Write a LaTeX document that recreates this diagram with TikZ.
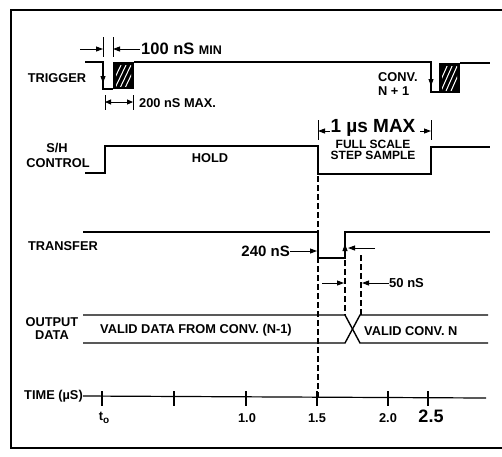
\documentclass[tikz,border=0pt]{standalone}
\usepackage{fontspec}
\setmainfont{Liberation Sans}
\usetikzlibrary{arrows.meta}
\newcommand{\fs}[1]{\fontsize{#1}{#1}\selectfont\bfseries}
\begin{document}
\begin{tikzpicture}[x=1pt,y=-1pt,
  sig/.style={line width=1.4pt, line join=miter},
  dim/.style={line width=0.9pt},
  dl/.style={line width=1.1pt, dash pattern=on 6pt off 3pt},
  arr/.style={-{Triangle[length=7pt,width=5pt]}, line width=0.9pt},
  darr/.style={{Triangle[length=6pt,width=5pt]}-{Triangle[length=6pt,width=5pt]}, line width=0.9pt},
  lbl/.style={font=\fs{12.8}, inner sep=0pt, align=center}
]
\useasboundingbox (0,0) rectangle (502,456);
% frame
\draw[line width=1.6pt] (502,10) -- (11,10) -- (11,448) -- (502,448);

% ---------- TRIGGER ----------
\node[lbl] (trig) at (57,78) {TRIGGER};
\draw[sig] (85,62) -- (103,62) -- (103,89) -- (113,89);
\fill (113,62) rectangle (134,89);
\begin{scope}
  \clip (116,65) rectangle (131,86);
  \foreach \i in {0,5,10,15} \draw[white, line width=1pt] (110+\i,88) -- (122+\i,63);
\end{scope}
\draw[sig] (134,62) -- (431,62) -- (431,92) -- (439,92);
\fill (439,63) rectangle (460,93);
\begin{scope}
  \clip (442,66) rectangle (457,90);
  \foreach \i in {0,5,10,15} \draw[white, line width=1pt] (436+\i,91) -- (448+\i,64);
\end{scope}
\draw[sig] (460,63) -- (490,63);
\draw[arr] (103,62) -- (103,83);
\draw[arr] (431,62) -- (431,86);
\node[lbl, anchor=west] (conv1) at (378,77) {CONV.};
\node[lbl, anchor=west] (conv2) at (378,91) {N + 1};

% 100 nS MIN
\draw[dim] (103,37) -- (103,57);
\draw[dim] (113,37) -- (113,57);
\coordinate (a1) at (80,49); \coordinate (a2) at (103,49);
\coordinate (a3) at (140,49); \coordinate (a4) at (113,49);
\draw[arr] (a1) -- (a2);
\draw[arr] (a3) -- (a4);
\node[inner sep=0pt, anchor=west] (t100) at (141,49) {\fs{16.5}100 nS \fs{12.5}MIN};

% 200 nS MAX
\draw[dim] (105,95) -- (105,110);
\draw[dim] (133,95) -- (133,110);
\coordinate (b1) at (105,102); \coordinate (b2) at (133,102);
\draw[darr] (b1) -- (b2);
\node[lbl, anchor=west] (t200) at (139,103) {200 nS MAX.};

% ---------- S/H CONTROL ----------
\node[lbl] (sh) at (57,148) {S/H};
\node[lbl] (ctl) at (58,163) {CONTROL};
\draw[sig] (85,173) -- (105,173) -- (105,146) -- (318,146) -- (318,174) -- (431,174) -- (431,147) -- (490,147);
\node[lbl] (hold) at (210,158) {HOLD};
\draw[dim] (318,120) -- (318,140);
\draw[dim] (431,120) -- (431,140);
\coordinate (c1) at (330,131); \coordinate (c2) at (318,131);
\coordinate (c3) at (420,131); \coordinate (c4) at (431,131);
\draw[arr] (c1) -- (c2);
\draw[arr] (c3) -- (c4);
\node[inner sep=0pt] (onemu) at (373,128) {\fs{19}1 µs MAX};
\node[lbl, font=\fs{12}] (fs1) at (373,144) {FULL SCALE};
\node[lbl, font=\fs{12}] (fs2) at (373,155) {STEP SAMPLE};

% ---------- TRANSFER ----------
\node[lbl] (trans) at (63,246) {TRANSFER};
\draw[sig] (83,232) -- (318,232) -- (318,258) -- (345,258) -- (345,232) -- (490,232);
\node[inner sep=0pt, anchor=east] (t240) at (290,251) {\fs{15}240 nS};
\draw[arr] (t240.east) -- (317,251);
\draw[arr] (345,258) -- (345,244);
\coordinate (d1) at (375,248); \coordinate (d2) at (348,248);
\draw[arr] (d1) -- (d2);

% dashed guides
\draw[dl] (318,176) -- (318,398);
\draw[dl] (345,260) -- (345,315);
\draw[dl] (361,255) -- (361,315);
\coordinate (e1) at (322,283); \coordinate (e2) at (344,283);
\draw[arr] (e1) -- (e2);
\node[inner sep=0pt, anchor=west] (t50) at (389,283) {\fs{13}50 nS};
\draw[arr] (t50.west) -- (362,283);

% ---------- OUTPUT DATA ----------
\node[lbl] (out1) at (52,322) {OUTPUT};
\node[lbl] (out2) at (52,335) {DATA};
\draw[sig] (83,315) -- (345,315) -- (360,343) -- (488,343);
\draw[sig] (83,343) -- (345,343) -- (360,315) -- (488,315);
\node[lbl, anchor=west] (vd1) at (100,330) {VALID DATA FROM CONV. (N-1)};
\node[lbl, anchor=west] (vd2) at (364,331) {VALID CONV. N};

% ---------- TIME ----------
\node[lbl, anchor=east] (time) at (83,396) {TIME (µS)};
\draw[line width=1.2pt] (time.east) -- (486,398);
\foreach \x in {102,174,246,317,388,428} \draw[line width=1.2pt] (\x,391) -- (\x,406);
\node[lbl] (t0) at (104,418) {t\raisebox{-2.5pt}{\fs{10}o}};
\node[lbl] (l10) at (247,418) {1.0};
\node[lbl] (l15) at (317,418) {1.5};
\node[lbl] (l20) at (388,418) {2.0};
\node[inner sep=0pt] (l25) at (431,416) {\fs{18}2.5};
\end{tikzpicture}
\end{document}
